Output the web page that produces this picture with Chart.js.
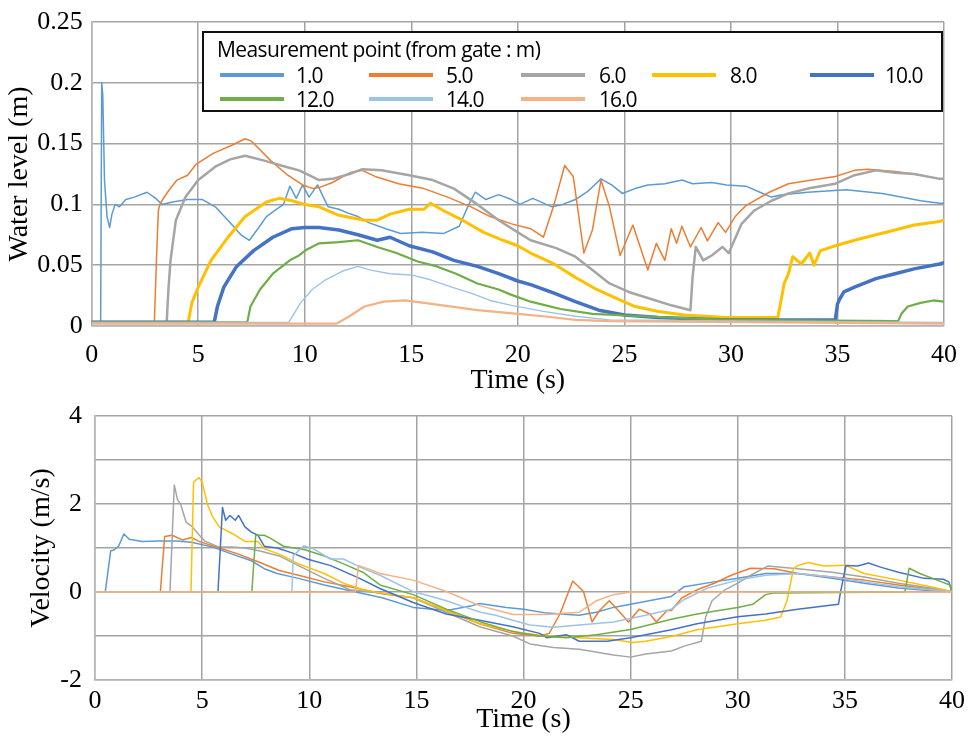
<!DOCTYPE html>
<html>
<head>
<meta charset="utf-8">
<script src="https://cdn.jsdelivr.net/npm/chart.js@4.4.1/dist/chart.umd.min.js"></script>
<style>
    body { margin: 0; background: #fff; width: 973px; height: 742px; overflow: hidden; position: relative; }
    canvas { position: absolute; left: 0; }
    #levelChart { top: 0; }
    #velocityChart { top: 390px; }
    #legend {
        position: absolute; left: 202px; top: 31px; width: 737px; height: 77px;
        border: 2px solid #111; background: #fff;
        font-family: "Open Sans", "Noto Sans", sans-serif; color: #000;
    }
    #legend .title { position: absolute; left: 13px; top: 2px; font-size: 21px; letter-spacing: -0.6px; white-space: nowrap; }
    #legend .sample { position: absolute; width: 64px; height: 4px; }
    #legend .label { position: absolute; font-size: 21px; letter-spacing: -1px; line-height: 24px; }
</style>
</head>
<body>
<canvas id="levelChart" width="973" height="395"></canvas>
<canvas id="velocityChart" width="973" height="352"></canvas>
<div id="legend"><div class="title">Measurement point (from gate : m)</div></div>
<script>
// Measurement points (distance from gate, m)
const points = ['1.0', '5.0', '6.0', '8.0', '10.0', '12.0', '14.0', '16.0'];
const colors = ['#5B9BD5', '#ED7D31', '#A5A5A5', '#FFC000', '#4472C4', '#70AD47', '#9DC3E6', '#F4B183'];

// Tick labels
const timeTicks = ['0', '5', '10', '15', '20', '25', '30', '35', '40'];
const levelTicks = ['0', '0.05', '0.1', '0.15', '0.2', '0.25'];
const velocityTicks = ['-2', '', '0', '', '2', '', '4'];

// Water level (m) vs time (s)
const level1 = [[0,0.003],[0.42,0.003],[0.47,0.2],[0.52,0.19],[0.6,0.12],[0.72,0.09],[0.84,0.081],[0.95,0.092],[1.1,0.1],[1.3,0.098],[1.6,0.104],[2.0,0.106],[2.6,0.11],[3.0,0.105],[3.3,0.1],[3.8,0.102],[4.5,0.104],[5.2,0.104],[5.8,0.098],[6.5,0.085],[7.0,0.075],[7.4,0.0705],[7.8,0.08],[8.2,0.09],[8.6,0.095],[9.0,0.1],[9.3,0.115],[9.6,0.105],[9.9,0.116],[10.2,0.106],[10.6,0.116],[10.9,0.105],[11.1,0.098],[11.6,0.096],[12.0,0.093],[12.5,0.09],[13.0,0.085],[13.8,0.08],[14.5,0.076],[15.5,0.077],[16.5,0.076],[17.25,0.082],[17.7,0.1],[18.0,0.11],[18.5,0.104],[19.1,0.108],[19.7,0.104],[20.1,0.1],[20.7,0.105],[21.6,0.098],[22.1,0.1],[22.7,0.104],[23.3,0.111],[23.9,0.121],[24.4,0.116],[24.9,0.109],[25.5,0.113],[26.1,0.116],[26.9,0.117],[27.7,0.12],[28.2,0.117],[29.1,0.118],[29.8,0.116],[30.7,0.115],[31.5,0.109],[31.9,0.106],[32.4,0.108],[33.6,0.11],[35.4,0.112],[37.1,0.109],[38.3,0.105],[38.9,0.103],[39.8,0.101],[40,0.101]];
const level5 = [[0,0.003],[2.94,0.003],[3.05,0.06],[3.13,0.095],[3.2,0.1],[3.33,0.104],[3.6,0.111],[4.0,0.12],[4.5,0.124],[4.9,0.133],[5.7,0.142],[6.5,0.148],[7.2,0.154],[7.5,0.152],[8.4,0.136],[9.2,0.124],[9.9,0.116],[10.4,0.113],[10.7,0.114],[11.3,0.118],[12.1,0.126],[12.7,0.128],[13.3,0.123],[14.4,0.117],[15.6,0.113],[16.7,0.106],[17.8,0.098],[18.7,0.09],[19.7,0.084],[20.6,0.08],[21.2,0.073],[21.7,0.1],[22.2,0.132],[22.6,0.123],[23.1,0.06],[23.5,0.079],[23.9,0.12],[24.3,0.098],[24.8,0.058],[25.4,0.083],[26.1,0.046],[26.5,0.068],[26.9,0.054],[27.2,0.08],[27.45,0.068],[27.7,0.082],[28.1,0.065],[28.6,0.081],[28.9,0.07],[29.4,0.085],[29.75,0.077],[30.2,0.09],[30.7,0.099],[31.8,0.11],[32.7,0.117],[33.8,0.12],[34.9,0.123],[35.8,0.128],[36.4,0.129],[37.7,0.127],[38.6,0.125],[39.8,0.121],[40,0.121]];
const level6 = [[0,0.003],[3.52,0.003],[3.6,0.03],[3.7,0.054],[3.95,0.087],[4.4,0.106],[5.0,0.12],[5.8,0.131],[6.5,0.137],[7.2,0.14],[8.1,0.136],[9.1,0.131],[9.73,0.128],[10.2,0.124],[10.67,0.12],[11.3,0.121],[12.1,0.125],[12.7,0.129],[13.6,0.128],[14.9,0.124],[16.0,0.12],[17.0,0.113],[18.1,0.1],[19.1,0.087],[20.0,0.077],[20.6,0.0705],[21.8,0.064],[22.7,0.057],[23.5,0.046],[24.3,0.035],[25.2,0.028],[26.1,0.023],[27.2,0.017],[28.1,0.013],[28.2,0.04],[28.35,0.065],[28.7,0.054],[29.1,0.058],[29.6,0.065],[29.9,0.06],[30.5,0.084],[31.1,0.095],[31.9,0.103],[32.7,0.109],[33.6,0.113],[34.9,0.117],[35.8,0.124],[36.8,0.128],[37.7,0.126],[38.6,0.125],[39.8,0.121],[40,0.121]];
const level8 = [[0,0.003],[4.53,0.003],[4.7,0.019],[5.0,0.032],[5.6,0.054],[6.4,0.073],[7.2,0.09],[8.2,0.102],[8.8,0.105],[9.4,0.103],[10.0,0.1],[10.67,0.098],[11.6,0.091],[12.8,0.087],[13.4,0.087],[14.0,0.092],[14.9,0.096],[15.6,0.096],[15.9,0.101],[16.5,0.095],[17.4,0.087],[18.4,0.077],[19.3,0.0705],[20.0,0.066],[20.6,0.06],[21.7,0.051],[22.7,0.04],[23.6,0.031],[24.6,0.023],[25.5,0.016],[26.6,0.012],[27.8,0.009],[29.8,0.007],[32.2,0.007],[32.3,0.016],[32.5,0.035],[32.7,0.043],[32.9,0.057],[33.3,0.051],[33.7,0.06],[33.9,0.05],[34.2,0.062],[34.9,0.066],[35.8,0.0705],[36.8,0.075],[37.7,0.079],[38.6,0.083],[39.8,0.086],[40,0.087]];
const level10 = [[0,0.003],[5.75,0.003],[5.9,0.016],[6.2,0.032],[6.8,0.049],[7.6,0.062],[8.5,0.073],[9.4,0.08],[10.0,0.081],[10.67,0.081],[11.6,0.079],[12.5,0.075],[13.4,0.0705],[14.0,0.073],[14.9,0.066],[16.0,0.061],[17.0,0.054],[18.1,0.049],[19.1,0.043],[20.0,0.037],[20.6,0.034],[21.7,0.027],[22.7,0.02],[23.8,0.013],[25.0,0.009],[26.6,0.007],[29.8,0.005],[34.9,0.005],[35.0,0.018],[35.1,0.022],[35.3,0.028],[35.8,0.032],[36.8,0.039],[37.7,0.043],[38.6,0.047],[39.8,0.051],[40,0.052]];
const level12 = [[0,0.003],[7.3,0.003],[7.45,0.016],[7.9,0.03],[8.5,0.043],[9.3,0.054],[9.73,0.058],[10.1,0.063],[10.67,0.068],[11.6,0.069],[12.5,0.0705],[13.4,0.065],[14.3,0.06],[15.3,0.053],[16.2,0.049],[17.1,0.043],[18.1,0.035],[19.1,0.03],[19.64,0.026],[20.6,0.02],[22.0,0.014],[23.5,0.01],[25.8,0.008],[29.8,0.005],[37.85,0.004],[38.0,0.01],[38.3,0.016],[38.9,0.019],[39.5,0.021],[40,0.02]];
const level14 = [[0,0.003],[9.25,0.003],[9.8,0.019],[10.35,0.03],[10.98,0.038],[11.75,0.045],[12.5,0.049],[13.1,0.046],[14.0,0.043],[15.0,0.042],[15.9,0.038],[16.9,0.032],[17.8,0.027],[18.7,0.021],[19.7,0.017],[21.2,0.012],[22.7,0.008],[24.3,0.005],[40,0.003]];
const level16 = [[0,0.002],[11.5,0.002],[12.1,0.008],[12.8,0.016],[13.7,0.02],[14.7,0.021],[15.6,0.019],[16.9,0.016],[18.1,0.013],[20.0,0.01],[21.2,0.008],[22.7,0.005],[24.3,0.004],[40,0.002]];

// Velocity (m/s) vs time (s)
const velocity1 = [[0,0],[0.48,0],[0.73,0.93],[0.9,0.96],[1.1,1.04],[1.35,1.32],[1.6,1.2],[2.2,1.15],[3.0,1.16],[3.8,1.16],[4.5,1.13],[5.5,1.02],[6.4,0.86],[7.3,0.71],[7.9,0.53],[8.5,0.42],[9.5,0.31],[10.7,0.16],[11.9,0.03],[13.4,-0.13],[14.85,-0.35],[16.4,-0.42],[17.6,-0.31],[17.95,-0.26],[19.2,-0.35],[20.0,-0.39],[21.1,-0.48],[22.6,-0.53],[23.4,-0.46],[24.2,-0.35],[25.0,-0.28],[26.9,-0.1],[27.5,0.12],[28.9,0.23],[30.0,0.31],[31.3,0.42],[32.8,0.42],[34.4,0.31],[35.9,0.2],[37.5,0.09],[39.0,0.03],[40,0.01]];
const velocity5 = [[0,0],[3.05,0],[3.25,1.26],[3.6,1.29],[4.1,1.18],[4.5,1.24],[4.85,1.15],[5.8,1.0],[6.7,0.86],[7.7,0.67],[8.6,0.49],[9.5,0.38],[10.7,0.23],[11.9,0.12],[13.4,-0.04],[14.85,-0.13],[16.4,-0.42],[17.95,-0.72],[19.5,-0.94],[20.75,-1.0],[21.2,-0.94],[21.7,-0.5],[22.3,0.25],[22.8,0.01],[23.2,-0.68],[23.55,-0.42],[24.0,-0.2],[24.5,-0.46],[24.9,-0.68],[25.4,-0.39],[25.9,-0.5],[26.2,-0.68],[26.7,-0.42],[26.9,-0.42],[27.4,-0.13],[28.1,0.05],[28.9,0.2],[29.7,0.38],[30.6,0.54],[31.7,0.53],[32.8,0.42],[34.4,0.34],[35.9,0.27],[37.5,0.16],[39.0,0.07],[40,0.01]];
const velocity6 = [[0,0],[3.5,0],[3.7,2.43],[3.85,2.1],[4.0,1.99],[4.25,1.59],[4.55,1.48],[4.85,1.3],[5.15,1.15],[5.8,1.02],[6.4,1.02],[7.0,1.0],[7.7,0.93],[8.6,0.82],[9.5,0.6],[10.7,0.31],[11.9,0.05],[13.3,-0.02],[14.85,-0.13],[16.4,-0.46],[17.95,-0.79],[19.5,-1.0],[20.3,-1.18],[21.4,-1.26],[22.6,-1.3],[24.2,-1.43],[25.0,-1.48],[25.7,-1.41],[26.9,-1.34],[27.5,-1.23],[28.3,-1.12],[28.5,-0.57],[28.8,-0.2],[29.4,0.05],[30.0,0.2],[30.6,0.38],[31.4,0.59],[32.8,0.53],[34.4,0.45],[35.9,0.34],[37.5,0.2],[39.0,0.09],[40,0.01]];
const velocity8 = [[0,0],[4.48,0],[4.6,2.5],[4.85,2.6],[5.0,2.5],[5.25,1.99],[5.5,1.7],[5.8,1.48],[6.4,1.33],[7.0,1.15],[7.6,1.15],[7.9,0.98],[8.6,0.86],[9.5,0.64],[10.7,0.42],[11.6,0.2],[12.5,0.05],[13.3,-0.02],[14.85,-0.13],[16.4,-0.42],[17.95,-0.72],[19.2,-0.86],[20.0,-0.94],[21.1,-1.0],[22.6,-1.04],[24.2,-1.08],[25.1,-1.15],[25.7,-1.12],[26.9,-1.01],[28.1,-0.86],[30.0,-0.72],[31.3,-0.64],[32.0,-0.57],[32.3,-0.2],[32.6,0.53],[32.8,0.6],[33.3,0.67],[34.0,0.59],[35.0,0.61],[35.9,0.42],[37.5,0.27],[39.0,0.12],[40,0.01]];
const velocity10 = [[0,0],[5.74,0],[5.95,1.92],[6.1,1.63],[6.3,1.74],[6.55,1.63],[6.7,1.74],[7.0,1.48],[7.3,1.36],[7.6,1.29],[7.9,1.04],[8.5,1.0],[9.2,0.89],[9.9,0.75],[11.0,0.6],[12.3,0.32],[13.3,0.08],[14.85,-0.24],[16.4,-0.5],[17.95,-0.64],[19.5,-0.79],[20.75,-0.94],[21.1,-1.04],[22.0,-0.97],[22.6,-1.12],[23.9,-1.12],[25.0,-1.04],[25.7,-0.97],[26.9,-0.86],[28.1,-0.72],[30.0,-0.56],[31.3,-0.5],[32.8,-0.39],[34.7,-0.28],[34.8,0.01],[35.05,0.6],[35.6,0.59],[36.1,0.66],[36.7,0.56],[37.5,0.45],[38.7,0.31],[39.6,0.29],[39.85,0.23],[40,0.01]];
const velocity12 = [[0,0],[7.32,0],[7.5,1.29],[7.9,1.29],[8.2,1.22],[8.8,1.04],[9.8,0.96],[10.7,0.82],[11.6,0.64],[12.5,0.45],[13.3,0.16],[14.85,-0.06],[16.4,-0.39],[18.0,-0.68],[19.5,-0.9],[20.75,-1.0],[22.0,-1.04],[23.4,-0.97],[25.0,-0.85],[26.9,-0.62],[28.1,-0.5],[30.0,-0.35],[30.7,-0.28],[31.3,-0.06],[31.7,-0.02],[37.8,0],[38.0,0.54],[38.5,0.42],[39.3,0.27],[39.9,0.16],[40,0]];
const velocity14 = [[0,0],[9.19,0],[9.25,0.82],[9.75,1.05],[10.2,0.98],[10.98,0.75],[11.6,0.75],[12.4,0.56],[13.3,0.38],[14.85,0.01],[16.4,-0.2],[17.3,-0.35],[18.0,-0.46],[18.7,-0.53],[19.5,-0.64],[20.3,-0.75],[21.4,-0.8],[22.6,-0.75],[24.2,-0.68],[25.7,-0.53],[26.9,-0.39],[27.5,-0.17],[28.6,0.09],[30.0,0.27],[31.3,0.38],[32.8,0.42],[34.4,0.34],[35.9,0.23],[37.5,0.12],[39.0,0.05],[40,0.01]];
const velocity16 = [[0,0],[12.15,0],[12.3,0.6],[12.8,0.52],[13.3,0.42],[14.85,0.27],[16.4,0.01],[17.95,-0.31],[19.5,-0.51],[21.1,-0.51],[22.6,-0.46],[23.4,-0.2],[24.2,-0.06],[25.0,0],[40,0]];

const levelSeries = [level1, level5, level6, level8, level10, level12, level14, level16];
const velocitySeries = [velocity1, velocity5, velocity6, velocity8, velocity10, velocity12, velocity14, velocity16];
const levelWidths = [1.5, 1.5, 2.5, 3, 3.5, 2.2, 1.4, 2.2];

const serif = '"Liberation Serif", "Times New Roman", serif';
const gridColor = '#a3a3a3';

function toPoints(arr) {
    return arr.map(p => ({ x: p[0], y: p[1] }));
}

function makeDatasets(series, widths) {
    return series.map((s, i) => ({
        label: points[i],
        data: toPoints(s),
        borderColor: colors[i],
        borderWidth: widths ? widths[i] : 1.5,
        pointRadius: 0,
        tension: 0,
        fill: false,
        order: series.length - i   // later series drawn on top, like the original
    }));
}

function timeAxis(tickPad, titlePad, height) {
    return {
        type: 'linear', min: 0, max: 40,
        ticks: {
            stepSize: 5, padding: tickPad, color: '#000',
            font: { family: serif, size: 26, lineHeight: 1 },
            callback: (v, i) => timeTicks[i]
        },
        grid: { color: gridColor, lineWidth: 1.5, drawTicks: false },
        border: { color: '#b5b5b5', width: 1.5 },
        title: {
            display: true, text: 'Time (s)', color: '#000',
            font: { family: serif, size: 28, lineHeight: 1 },
            padding: { top: 0, bottom: titlePad }
        },
        afterFit: s => { s.height = height; }
    };
}

function valueAxis(min, max, step, labels, title, tickPad, titlePad, width) {
    return {
        type: 'linear', min: min, max: max,
        ticks: {
            stepSize: step, padding: tickPad, color: '#000',
            font: { family: serif, size: 26, lineHeight: 1 },
            callback: (v, i) => labels[i]
        },
        grid: { color: gridColor, lineWidth: 1.5, drawTicks: false },
        border: { color: '#b5b5b5', width: 1.5 },
        title: {
            display: true, text: title, color: '#000',
            font: { family: serif, size: 28, lineHeight: 1 },
            padding: { top: titlePad, bottom: 0 }
        },
        afterFit: s => { s.width = width; }
    };
}

const commonOptions = {
    responsive: false,
    animation: false,
    devicePixelRatio: 1,
    plugins: { legend: { display: false }, tooltip: { enabled: false } },
    elements: { line: { borderJoinStyle: 'round', borderCapStyle: 'round' } }
};

new Chart(document.getElementById('levelChart'), {
    type: 'line',
    data: { datasets: makeDatasets(levelSeries, levelWidths) },
    options: Object.assign({}, commonOptions, {
        layout: { padding: { top: 20.7, right: 25.3, bottom: 0, left: 0 } },
        scales: {
            x: timeAxis(16, 0, 69),
            y: valueAxis(0, 0.25, 0.05, levelTicks, 'Water level (m)', 9, 6, 91.7)
        }
    })
});

new Chart(document.getElementById('velocityChart'), {
    type: 'line',
    data: { datasets: makeDatasets(velocitySeries, null) },
    options: Object.assign({}, commonOptions, {
        layout: { padding: { top: 16.7, right: 20.3, bottom: 0, left: 0 } },
        scales: {
            x: timeAxis(8, 8, 62),
            y: valueAxis(-2, 4, 1, velocityTicks, 'Velocity (m/s)', 13, 28, 95)
        }
    })
});

// Legend box for the water level panel
const legend = document.getElementById('legend');
const sampleX = [16, 165, 317, 448, 606];
const labelX = [92, 242, 395, 526, 681];
const rowY = [42, 65.5];
points.forEach((p, i) => {
    const row = i < 5 ? 0 : 1;
    const col = i < 5 ? i : i - 5;
    const sample = document.createElement('div');
    sample.className = 'sample';
    sample.style.left = sampleX[col] + 'px';
    sample.style.top = (rowY[row] - 2) + 'px';
    sample.style.background = colors[i];
    legend.appendChild(sample);
    const label = document.createElement('div');
    label.className = 'label';
    label.textContent = p;
    label.style.left = labelX[col] + 'px';
    label.style.top = (rowY[row] - 12) + 'px';
    legend.appendChild(label);
});
</script>
</body>
</html>
